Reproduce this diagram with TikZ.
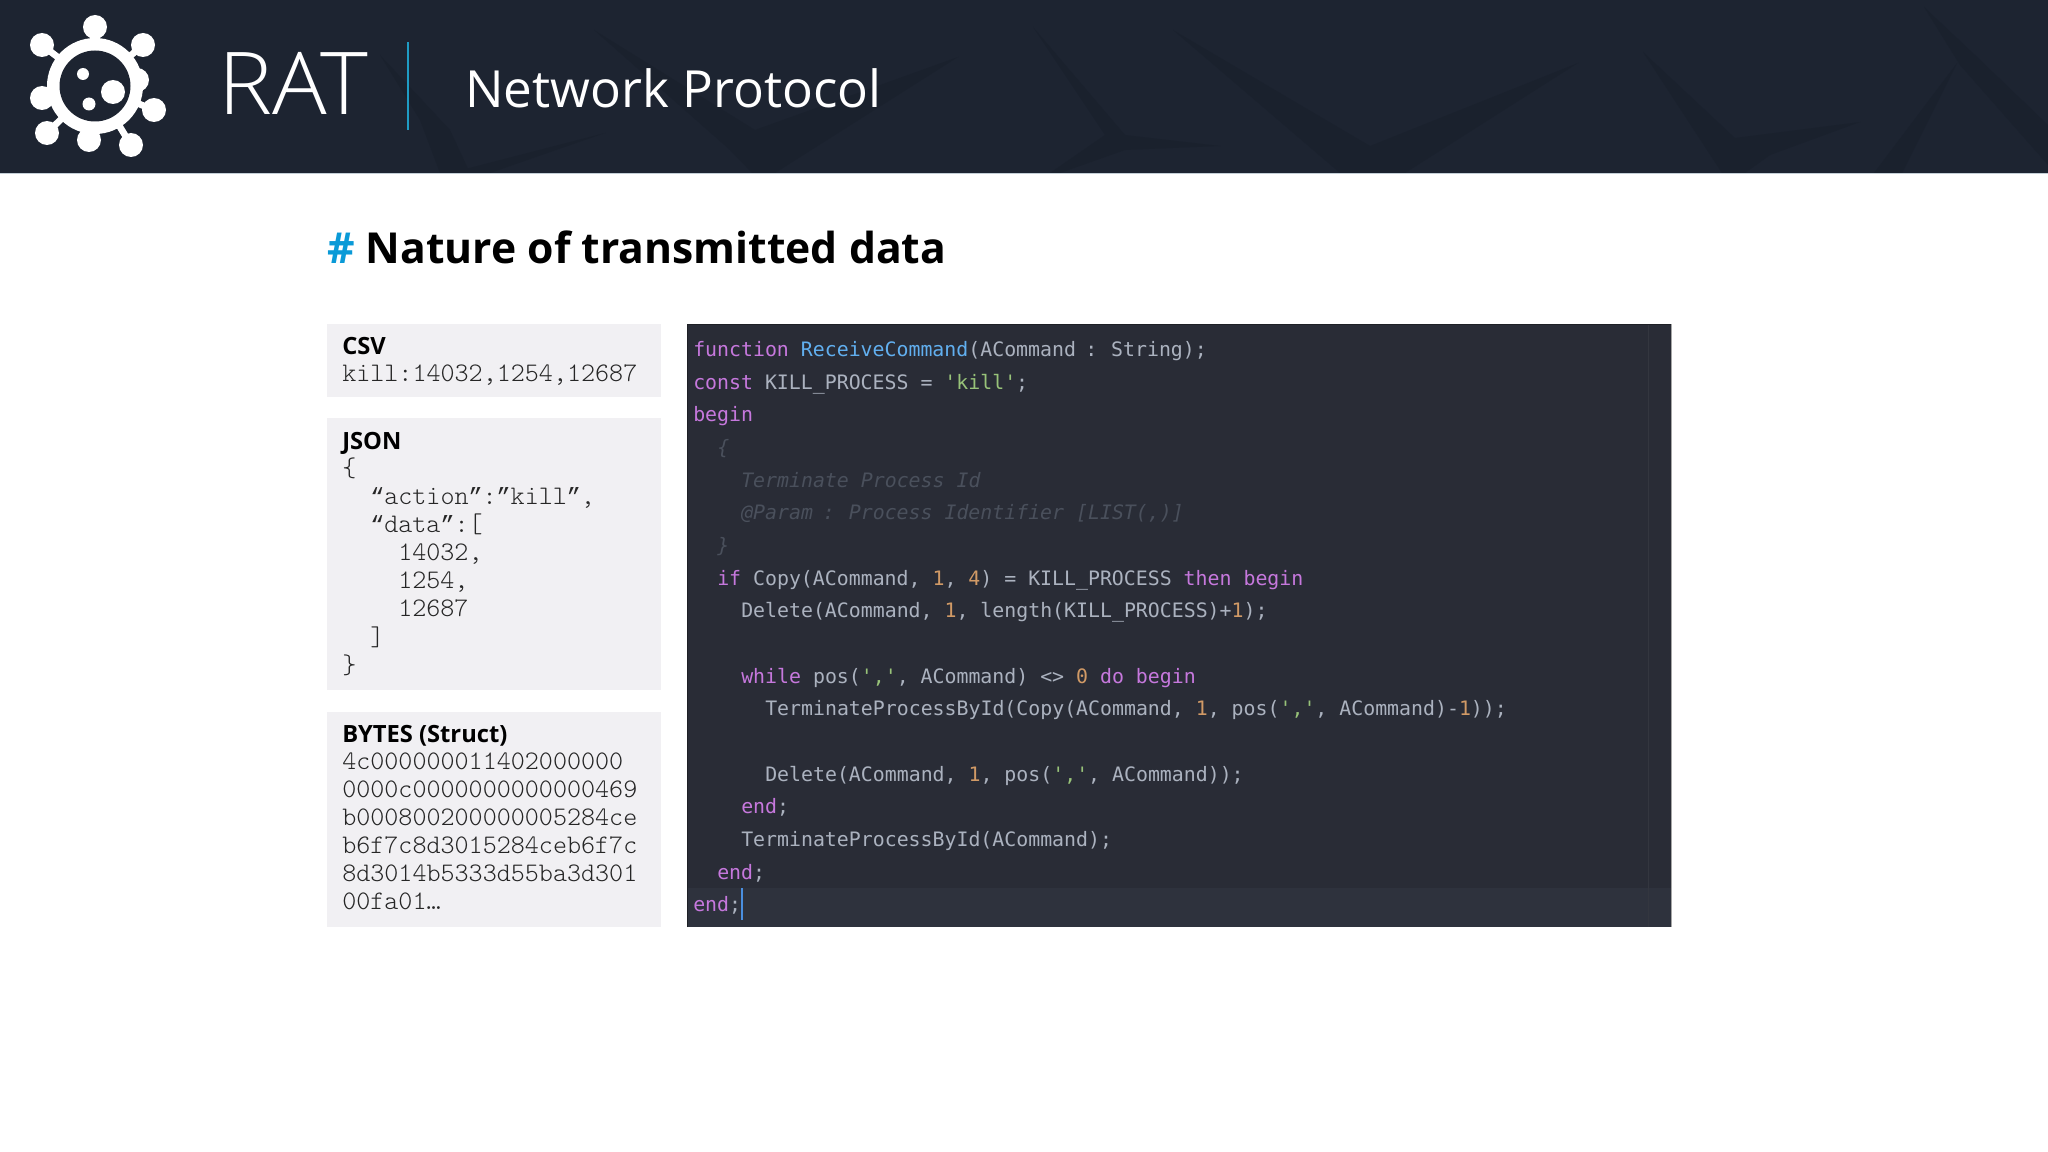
\documentclass[tikz,border=0pt]{standalone}
\usepackage{fontspec}
\setmainfont{Open Sans}
\newfontfamily\oslight{Open Sans Light}
\newfontfamily\codefont{DejaVu Sans Mono}
\newfontfamily\boxmono{Latin Modern Mono Light}
\newfontfamily\quotemono{Liberation Mono}
\definecolor{hdr}{HTML}{1D2431}
\definecolor{hdrdark}{HTML}{1A212D}
\definecolor{hdredge}{HTML}{C3CED6}
\definecolor{accent}{HTML}{0A9AD7}
\definecolor{sepcol}{HTML}{1F9CC4}
\definecolor{panel}{HTML}{F1F0F3}
\definecolor{codebg}{HTML}{292C36}
\definecolor{codeln}{HTML}{2E323D}
\definecolor{codedark}{HTML}{1E2026}
\definecolor{gutter}{HTML}{33363F}
\definecolor{kw}{HTML}{C678DD}
\definecolor{fn}{HTML}{61AFEF}
\definecolor{tx}{HTML}{ABB2BF}
\definecolor{st}{HTML}{98C379}
\definecolor{nu}{HTML}{D19A66}
\definecolor{cm}{HTML}{4A505C}
\definecolor{cursorblue}{HTML}{4A8FE0}
\newcommand{\K}[1]{\textcolor{kw}{#1}}
\newcommand{\F}[1]{\textcolor{fn}{#1}}
\newcommand{\Sg}[1]{\textcolor{st}{#1}}
\newcommand{\N}[1]{\textcolor{nu}{#1}}
\newcommand{\Qm}[1]{{\quotemono\fontsize{17.55}{22}\selectfont #1}}
\tikzset{
  code/.style={anchor=base west,inner sep=0pt,text=tx,font=\codefont\fontsize{14.9}{16}\selectfont},
  comm/.style={code,text=cm,font=\codefont\itshape\fontsize{14.9}{16}\selectfont},
  head/.style={anchor=base west,inner sep=0pt,text=black,font=\bfseries\fontsize{17.8}{20}\selectfont},
  mono/.style={anchor=base west,inner sep=0pt,text=black!85,font=\boxmono\fontsize{20.07}{22}\selectfont},
  card/.style={fill=panel,draw=none},
  blob/.style={fill=white,draw=none},
}
\begin{document}
\begin{tikzpicture}[x=0.75pt,y=-0.75pt]
\useasboundingbox (0,0) rectangle (2048,1152);
\fill[white] (0,0) rectangle (2048,1152);
% header
\fill[hdr] (0,0) rectangle (2048,173);
\fill[hdrdark] (380,55) -- (450,130) -- (470,173) -- (440,173) -- (420,120) -- cycle;
\fill[hdrdark] (450,173) -- (605,133) -- (490,173) -- cycle;
\fill[hdrdark] (594,30) -- (730,150) -- (752,173) -- (775,173) -- (958,57) -- (755,130) -- cycle;
\fill[hdrdark] (1033,27) -- (1125,135) -- (1220,146) -- (1125,150) -- (1060,173) -- (1050,173) -- (1105,135) -- cycle;
\fill[hdrdark] (1173,30) -- (1340,173) -- (1405,173) -- (1578,63) -- (1370,146) -- cycle;
\fill[hdrdark] (1643,52) -- (1722,173) -- (1745,173) -- (1770,155) -- (1860,122) -- (1735,138) -- cycle;
\fill[hdrdark] (1924,7) -- (1975,55) -- (2048,125) -- (2048,165) -- (1960,65) -- cycle;
\fill[hdrdark] (1957,63) -- (1902,173) -- (1874,173) -- cycle;
\draw[hdredge,line width=0.75pt] (0,173.5) -- (2048,173.5);
% logo
\foreach \a/\b in {95/27,42/45,143/45,42/98,154/110,47/133,89/140,131/145}{
  \draw[white,line width=5pt] (95,86) -- (\a,\b);
}
\foreach \a/\b/\r in {95/27/12,42/45/12,143/45/12,42/98/12,154/110/12,47/133/12,89/140/12,131/145/12,137/80/12}{
  \fill[blob] (\a,\b) circle[radius=\r];
}
\fill[blob] (95,86) circle[radius=48];
\fill[hdr] (95,86) circle[radius=35.5];
\foreach \a/\b/\r in {83/74/6,113/92/12,89/104/6.5}{
  \fill[blob] (\a,\b) circle[radius=\r];
}
\node[anchor=base west,inner sep=0pt,text=white,xscale=1.05,font=\oslight\fontsize{65}{70}\selectfont] (rat) at (218,115) {RAT};
\coordinate (sepT) at (407.5,42);
\coordinate (sepB) at (407.5,130);
\draw[sepcol,line width=1.5pt] (sepT) -- (sepB);
\node[anchor=base west,inner sep=0pt,text=white,font=\fontsize{38.4}{44}\selectfont] (sub) at (465,107.5) {Network Protocol};
% title
\node[anchor=base west,inner sep=0pt,font=\bfseries\fontsize{32}{36}\selectfont] (title) at (327,263) {\textcolor{accent}{\#} Nature of transmitted data};
% cards
\fill[card] (327,324) rectangle (661,397);
\fill[card] (327,418) rectangle (661,690);
\fill[card] (327,712) rectangle (661,927);
\node[head] (h1) at (342,354) {CSV};
\node[mono] (c1) at (342,381) {kill:14032,1254,12687};
\node[head] (h2) at (342,449) {JSON};
\node[mono] (j1) at (342,476) {\{};
\node[mono] (j2) at (370,504) {\Qm{“}action\Qm{”}:\Qm{”}kill\Qm{”},};
\node[mono] (j3) at (370,532) {\Qm{“}data\Qm{”}:[};
\node[mono] (j4) at (398,560) {14032,};
\node[mono] (j5) at (398,588) {1254,};
\node[mono] (j6) at (398,616) {12687};
\node[mono] (j7) at (370,645) {]};
\node[mono] (j8) at (342,673) {\}};
\node[head] (h3) at (342,742) {BYTES (Struct)};
\node[mono] (b1) at (342,769) {4c000000011402000000};
\node[mono] (b2) at (342,797) {0000c0000000000000469};
\node[mono] (b3) at (342,825) {b000800200000005284ce};
\node[mono] (b4) at (342,853) {b6f7c8d3015284ceb6f7c};
\node[mono] (b5) at (342,881) {8d3014b5333d55ba3d301};
\node[mono] (b6) at (342,909) {00fa01…};
% code panel
\fill[codebg] (687,324) rectangle (1671,927);
\fill[codeln] (687,888) rectangle (1671,927);
\draw[gutter,line width=0.75pt] (1648,324) -- (1648,927);
\draw[codedark,line width=0.5pt] (687.5,927) -- (687.5,324.5) -- (1671,324.5);
\draw[gray!70,line width=0.5pt] (1671,324) -- (1671,927);
\node[code] (l1) at (693,356) {\K{function} \F{ReceiveCommand}(ACommand\hspace{-2pt} :\hspace{-1.5pt} String);};
\node[code] (l2) at (693,389) {\K{const} KILL\_PROCESS = \Sg{'kill'};};
\node[code] (l3) at (693,421) {\K{begin}};
\node[comm] (l4) at (717,454) {\{};
\node[comm] (l5) at (741,487) {Terminate Process Id};
\node[comm] (l6) at (741,519) {@Param\hspace{-1.5pt} :\hspace{-1.5pt} Process Identifier [LIST(,)]};
\node[comm] (l7) at (717,552) {\}};
\node[code] (l8) at (717,585) {\K{if} Copy(ACommand, \N{1}, \N{4}) = KILL\_PROCESS \K{then} \K{begin}};
\node[code] (l9) at (741,617) {Delete(ACommand, \N{1}, length(KILL\_PROCESS)+\N{1});};
\node[code] (l10) at (741,683) {\K{while} pos(\Sg{','}, ACommand) <> \N{0} \K{do} \K{begin}};
\node[code] (l11) at (765,715) {TerminateProcessById(Copy(ACommand, \N{1}, pos(\Sg{','}, ACommand)-\N{1}));};
\node[code] (l12) at (765,781) {Delete(ACommand, \N{1}, pos(\Sg{','}, ACommand));};
\node[code] (l13) at (741,813) {\K{end};};
\node[code] (l14) at (741,846) {TerminateProcessById(ACommand);};
\node[code] (l15) at (717,879) {\K{end};};
\node[code] (l16) at (693,911) {\K{end};};
\coordinate (curT) at (742,888);
\coordinate (curB) at (742,920);
\draw[cursorblue,line width=1.6pt] (curT) -- (curB);
\end{tikzpicture}
\end{document}
